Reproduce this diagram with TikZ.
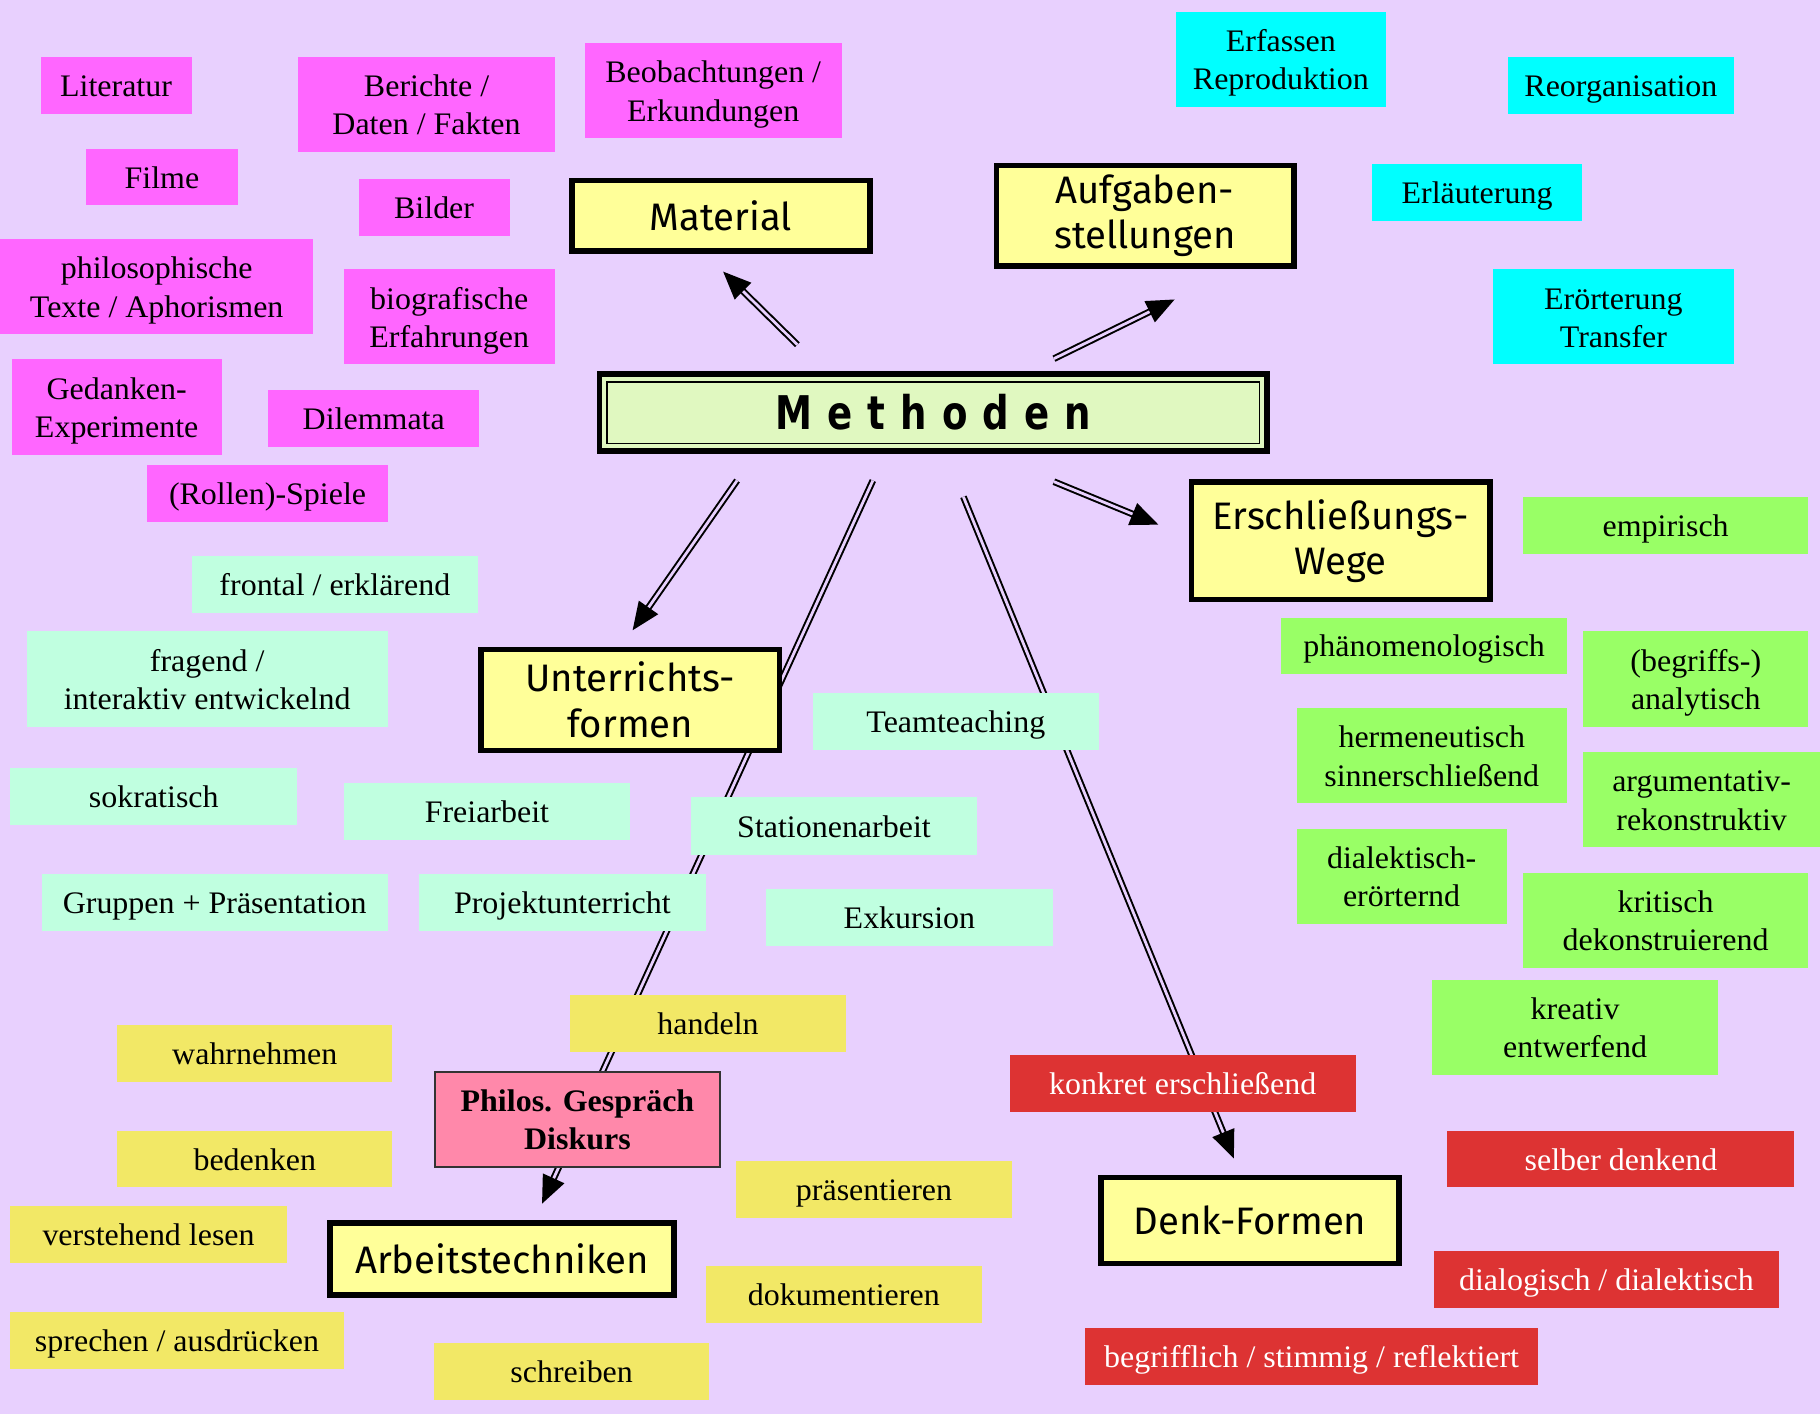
\documentclass[tikz,border=0pt]{standalone}
\usepackage{fontspec}
\setmainfont{Liberation Serif}[FakeStretch=1.02]
\newfontfamily\headfont{Fira Sans}
\newfontfamily\methfont[FakeStretch=0.8]{DejaVu Sans}
\usetikzlibrary{arrows.meta}
\definecolor{bg}{HTML}{E8D0FE}
\definecolor{mag}{HTML}{FF66FF}
\definecolor{cya}{HTML}{00FFFF}
\definecolor{hyel}{HTML}{FFFF99}
\definecolor{mgreen}{HTML}{E0F8C0}
\definecolor{grn}{HTML}{99FF66}
\definecolor{mint}{HTML}{C0FFE0}
\definecolor{yel}{HTML}{F2E866}
\definecolor{pnk}{HTML}{FF88AA}
\definecolor{rd}{HTML}{DD3333}
\tikzset{
  tag/.style={font=\fontsize{27}{33}\selectfont, align=center, inner sep=0pt, outer sep=0pt, draw=none,
    text height=25.5pt, text depth=6.5pt},
  tagtwo/.style={font=\fontsize{27}{33}\selectfont, align=center, inner sep=0pt, outer sep=0pt, draw=none,
    text height=59pt, text depth=6.5pt},
  head/.style={font=\headfont\fontsize{33}{39}\selectfont, align=center, inner sep=0pt, outer sep=0pt, fill=hyel, draw=black, line width=5pt},
  dbl/.style={draw=black, line width=1.7pt, double=bg, double distance=2.4pt, -{Triangle[length=24pt,width=20pt]}},
}
\begin{document}
\begin{tikzpicture}[x=1pt,y=-1pt]
\fill[bg] (0,0) rectangle (1568,1218);
\useasboundingbox (0,0) rectangle (1568,1218);

% connector end points
\coordinate (m1) at (687,297);  \coordinate (m2) at (623,234);
\coordinate (a1) at (908,309);  \coordinate (a2) at (1012,258);
\coordinate (e1) at (908,415);  \coordinate (e2) at (998,452);
\coordinate (u1) at (635,414);  \coordinate (u2) at (545,543);
\coordinate (t1) at (752,414);  \coordinate (t2) at (467,1037);
\coordinate (d1) at (830,428);  \coordinate (d2) at (1063,998);

\draw[dbl] (m1) -- (m2);
\draw[dbl] (a1) -- (a2);
\draw[dbl] (e1) -- (e2);
\draw[dbl] (u1) -- (u2);
\draw[dbl] (t1) -- (t2);
\draw[dbl] (d1) -- (d2);

% magenta
\node[tag, fill=mag, minimum width=130, minimum height=49] (lit) at (100,73.5) {Literatur};
\node[tagtwo, fill=mag, minimum width=221, minimum height=82] (ber) at (367.5,90) {Berichte /\\Daten / Fakten};
\node[tagtwo, fill=mag, minimum width=221, minimum height=82] (beo) at (614.5,78) {Beobachtungen /\\Erkundungen};
\node[tag, fill=mag, minimum width=131, minimum height=49] (fil) at (139.5,152.5) {Filme};
\node[tag, fill=mag, minimum width=130, minimum height=49] (bil) at (374,178.5) {Bilder};
\node[tagtwo, fill=mag, minimum width=270, minimum height=82] (phi) at (135,247) {philosophische\\Texte / Aphorismen};
\node[tagtwo, fill=mag, minimum width=182, minimum height=82] (bio) at (387,273) {biografische\\Erfahrungen};
\node[tagtwo, fill=mag, minimum width=181, minimum height=83] (ged) at (100.5,350.5) {Gedanken-\\Experimente};
\node[tag, fill=mag, minimum width=182, minimum height=49] (dil) at (322,360.5) {Dilemmata};
\node[tag, fill=mag, minimum width=207, minimum height=49] (rol) at (230.5,425.5) {(Rollen)-Spiele};

% cyan
\node[tagtwo, fill=cya, minimum width=181, minimum height=82] (erf) at (1103.5,51) {Erfassen\\Reproduktion};
\node[tag, fill=cya, minimum width=195, minimum height=49] (reo) at (1396.5,73.5) {Reorganisation};
\node[tag, fill=cya, minimum width=181, minimum height=49] (erl) at (1272.5,165.5) {Erläuterung};
\node[tagtwo, fill=cya, minimum width=208, minimum height=82] (ero) at (1390,273) {Erörterung\\Transfer};

% headings
\node[head, minimum width=257, minimum height=61] (mat) at (621,186) {Material};
\node[head, minimum width=256, minimum height=87] (auf) at (986.5,186) {Aufgaben-\\stellungen};
\node[head, minimum width=257, minimum height=101] (ers) at (1155,466) {Erschließungs-\\Wege};
\node[head, minimum width=257, minimum height=87] (unt) at (543,603) {Unterrichts-\\formen};
\node[head, minimum width=296, minimum height=62] (arb) at (432.5,1084.5) {Arbeitstechniken};
\node[head, minimum width=257, minimum height=74] (den) at (1077,1051.5) {Denk-Formen};

\node[draw=black, line width=5pt, fill=mgreen, inner sep=0pt, outer sep=0pt, minimum width=575, minimum height=66,
      font=\methfont\bfseries\fontsize{40}{44}\selectfont] (meth) at (804,355.5)
      {M\hspace{13pt}e\hspace{13pt}t\hspace{13pt}h\hspace{13pt}o\hspace{13pt}d\hspace{13pt}e\hspace{13pt}n};
\draw[line width=1.5pt] ([shift={(6.5,6.5)}]meth.north west) rectangle ([shift={(-6.5,-6.5)}]meth.south east);

% green
\node[tag, fill=grn, minimum width=246, minimum height=49] (emp) at (1435,452.5) {empirisch};
\node[tag, fill=grn, minimum width=246, minimum height=49] (pha) at (1227,556.5) {phänomenologisch};
\node[tagtwo, fill=grn, minimum width=194, minimum height=82] (ana) at (1461,585) {(begriffs-)\\analytisch};
\node[tagtwo, fill=grn, minimum width=233, minimum height=82] (her) at (1233.5,651) {hermeneutisch\\sinnerschließend};
\node[tagtwo, fill=grn, minimum width=204, minimum height=82] (arg) at (1466,689) {argumentativ-\\rekonstruktiv};
\node[tagtwo, fill=grn, minimum width=181, minimum height=82] (dia) at (1207.5,755) {dialektisch-\\erörternd};
\node[tagtwo, fill=grn, minimum width=246, minimum height=82] (kri) at (1435,793) {kritisch\\dekonstruierend};
\node[tagtwo, fill=grn, minimum width=246, minimum height=82] (kre) at (1357,885) {kreativ\\entwerfend};

% mint
\node[tag, fill=mint, minimum width=247, minimum height=49] (fro) at (288.5,503.5) {frontal / erklärend};
\node[tagtwo, fill=mint, minimum width=311, minimum height=82] (fra) at (178.5,585) {fragend /\\interaktiv entwickelnd};
\node[tag, fill=mint, minimum width=247, minimum height=49] (sok) at (132.5,686.5) {sokratisch};
\node[tag, fill=mint, minimum width=247, minimum height=49] (fre) at (419.5,699.5) {Freiarbeit};
\node[tag, fill=mint, minimum width=247, minimum height=49] (tea) at (823.5,621.5) {Teamteaching};
\node[tag, fill=mint, minimum width=247, minimum height=50] (sta) at (718.5,712) {Stationenarbeit};
\node[tag, fill=mint, minimum width=298, minimum height=49] (gru) at (185,777.5) {Gruppen + Präsentation};
\node[tag, fill=mint, minimum width=247, minimum height=49] (pro) at (484.5,777.5) {Projektunterricht};
\node[tag, fill=mint, minimum width=247, minimum height=49] (exk) at (783.5,790.5) {Exkursion};

% yellow
\node[tag, fill=yel, minimum width=238, minimum height=49] (han) at (610,881.5) {handeln};
\node[tag, fill=yel, minimum width=237, minimum height=49] (wah) at (219.5,907.5) {wahrnehmen};
\node[tag, fill=yel, minimum width=237, minimum height=49] (bed) at (219.5,998.5) {bedenken};
\node[tag, fill=yel, minimum width=238, minimum height=49] (ver) at (128,1063.5) {verstehend lesen};
\node[tag, fill=yel, minimum width=238, minimum height=49] (pra) at (753,1024.5) {präsentieren};
\node[tag, fill=yel, minimum width=287, minimum height=49] (spr) at (152.5,1154.5) {sprechen / ausdrücken};
\node[tag, fill=yel, minimum width=238, minimum height=49] (dok) at (727,1115.5) {dokumentieren};
\node[tag, fill=yel, minimum width=237, minimum height=49] (sch) at (492.5,1181.5) {schreiben};

% philos
\node[tagtwo, fill=pnk, draw=black!80, line width=1.5pt, minimum width=246, minimum height=82, font=\bfseries\fontsize{27}{33}\selectfont] (phg) at (497.5,964.5) {Philos. Gespräch\\Diskurs};

% red
\node[tag, fill=rd, text=white, minimum width=298, minimum height=49] (kon) at (1019,933.5) {konkret erschließend};
\node[tag, fill=rd, text=white, minimum width=299, minimum height=49] (sel) at (1396.5,998.5) {selber denkend};
\node[tag, fill=rd, text=white, minimum width=298, minimum height=49] (dlg) at (1384,1102.5) {dialogisch / dialektisch};
\node[tag, fill=rd, text=white, minimum width=390, minimum height=49] (beg) at (1130,1168.5) {begrifflich / stimmig / reflektiert};
\end{tikzpicture}
\end{document}
